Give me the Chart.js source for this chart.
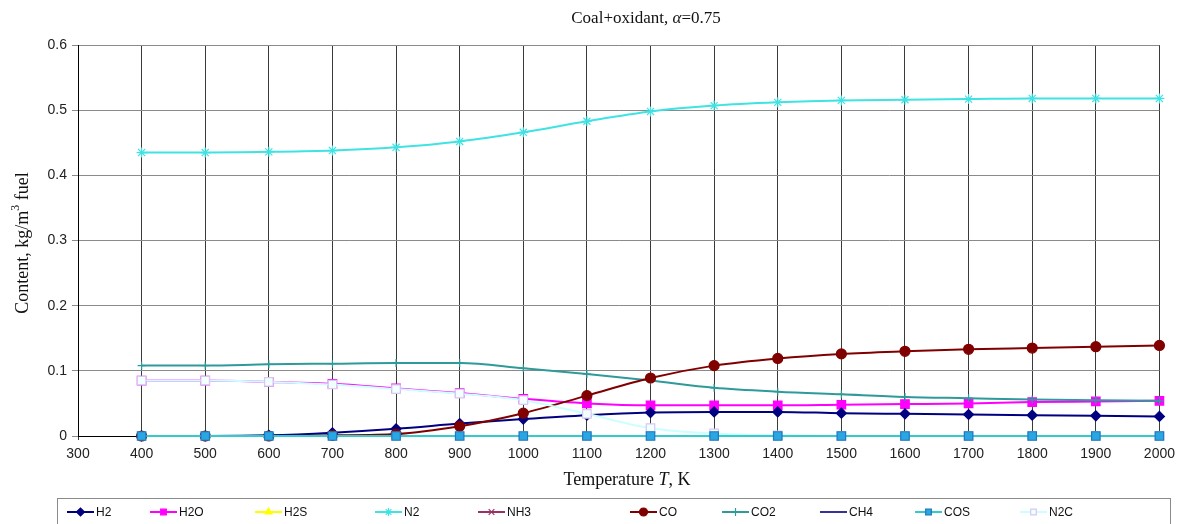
<!DOCTYPE html>
<html><head><meta charset="utf-8">
<script src="https://cdn.jsdelivr.net/npm/chart.js@4.4.1/dist/chart.umd.min.js"></script>
<style>html,body{margin:0;padding:0;background:#fff;}#wrap{width:1181px;height:524px;}</style>
</head><body><div id="wrap"><canvas id="c" width="1181" height="524"></canvas></div>
<script>
const temperatures = [400,500,600,700,800,900,1000,1100,1200,1300,1400,1500,1600,1700,1800,1900,2000];
const h2  = [0,0,0.001,0.005,0.011,0.019,0.026,0.032,0.036,0.037,0.037,0.035,0.034,0.033,0.032,0.031,0.030];
const h2o = [0.085,0.085,0.083,0.080,0.073,0.066,0.057,0.050,0.047,0.047,0.047,0.048,0.049,0.050,0.052,0.053,0.054];
const h2s = [0,0,0,0,0,0,0,0,0,0,0,0,0,0,0,0,0];
const n2  = [0.435,0.435,0.436,0.438,0.443,0.452,0.466,0.483,0.498,0.507,0.512,0.515,0.516,0.517,0.518,0.518,0.518];
const nh3 = [0,0,0,0,0,0,0,0,0,0,0,0,0,0,0,0,0];
const co  = [0,0,0,0.001,0.003,0.015,0.035,0.062,0.089,0.108,0.119,0.126,0.130,0.133,0.135,0.137,0.139];
const co2 = [0.108,0.108,0.110,0.111,0.112,0.112,0.104,0.095,0.085,0.074,0.068,0.064,0.060,0.058,0.056,0.055,0.054];
const ch4 = [0,0,0,0,0,0,0,0,0,0,0,0,0,0,0,0,0];
const cos = [0,0,0,0,0,0,0,0,0,0,0,0,0,0,0,0,0];
const n2c = [0.085,0.085,0.083,0.079,0.072,0.065,0.055,0.034,0.012,0.004,0.001,0,0,0,0,0,0];
const seriesNames = ['H2','H2O','H2S','N2','NH3','CO','CO2','CH4','COS','N2C'];
const xMin = 300, xMax = 2000, xStep = 100;
const yMin = 0, yMax = 0.6, yStep = 0.1;

const pts = arr => arr.map((v,i)=>({x:temperatures[i], y:v}));
const styles = [
  {c:'#000080', ps:'rectRot', r:5, bg:'#000080', order:3},
  {c:'#ff00ff', ps:'rect', r:6, bg:'#ff00ff', order:5},
  {c:'#ffff00', ps:'triangle', r:4, bg:'#ffff00', order:8},
  {c:'#3fe3e3', ps:'star', r:5, bg:'#3fe3e3', order:6},
  {c:'#993366', ps:'crossRot', r:4, bg:'#993366', order:9},
  {c:'#800000', ps:'circle', r:5, bg:'#800000', order:2},
  {c:'#2f9a9a', ps:'cross', r:4, bg:'#2f9a9a', order:4},
  {c:'#333399', ps:'line', r:2, bg:'#333399', order:7},
  {c:'#33cccc', ps:'rect', r:6, bg:'#2aa6e2', bc:'#1f78c0', order:0},
  {c:'#ccffff', ps:'rect', r:6, bg:'#f2ffff', bc:'#d8c8f0', order:1}
];
const values = [h2,h2o,h2s,n2,nh3,co,co2,ch4,cos,n2c];
const datasets = values.map((v,i)=>({
  label: seriesNames[i], data: pts(v), borderColor: styles[i].c, backgroundColor: styles[i].bg,
  pointStyle: styles[i].ps, pointRadius: styles[i].r, pointBorderColor: styles[i].bc || styles[i].c,
  pointBackgroundColor: styles[i].bg, pointBorderWidth: 1.2, borderWidth: 2,
  cubicInterpolationMode: 'monotone', order: styles[i].order, clip: false
}));

function richText(ctx, parts, cx, cy, size){
  let total = 0;
  parts.forEach(p=>{ ctx.font = (p.it?'italic ':'') + (p.sup?size*0.65:size) + 'px "Liberation Serif"'; p.w = ctx.measureText(p.t).width; total += p.w; });
  let x = cx - total/2;
  ctx.textBaseline = 'middle'; ctx.textAlign = 'left';
  parts.forEach(p=>{ ctx.font = (p.it?'italic ':'') + (p.sup?size*0.65:size) + 'px "Liberation Serif"'; ctx.fillText(p.t, x, p.sup? cy - size*0.38 : cy); x += p.w; });
}

const textPlugin = {
  id:'texts',
  afterDraw(chart){
    const ctx = chart.ctx; ctx.save(); ctx.fillStyle = '#111';
    richText(ctx, [{t:'Coal+oxidant, '},{t:'α',it:true},{t:'=0.75'}], 646, 19, 17);
    richText(ctx, [{t:'Temperature '},{t:'T',it:true},{t:', K'}], 627, 480, 18);
    ctx.save(); ctx.translate(23, 243); ctx.rotate(-Math.PI/2);
    richText(ctx, [{t:'Content, kg/m'},{t:'3',sup:true},{t:' fuel'}], 0, 0, 18);
    ctx.restore();
    // legend
    ctx.strokeStyle = '#8a8a8a'; ctx.lineWidth = 1;
    ctx.strokeRect(57.5, 498.5, 1113, 40);
    const starts = [67,150,255,375,478,630,722,820,915,1020];
    const ly = 512;
    ctx.font = '12px "Liberation Sans"'; ctx.textBaseline = 'middle'; ctx.textAlign='left';
    seriesNames.forEach((n,i)=>{
      const s = styles[i], x0 = starts[i];
      ctx.strokeStyle = s.c; ctx.lineWidth = 2;
      ctx.beginPath(); ctx.moveTo(x0, ly); ctx.lineTo(x0+27, ly); ctx.stroke();
      ctx.fillStyle = s.bg; ctx.strokeStyle = s.bc || s.c; ctx.lineWidth = 1.2;
      Chart.helpers.drawPoint(ctx, {pointStyle:s.ps, radius:Math.min(s.r,4), rotation:0, borderWidth:1.2}, x0+13.5, ly);
      ctx.fillStyle = '#111';
      ctx.fillText(n, x0+29, ly+0.5);
    });
    ctx.restore();
  }
};

new Chart(document.getElementById('c'), {
  type:'line',
  data:{datasets},
  options:{
    responsive:false, animation:false, devicePixelRatio:1,
    layout:{padding:{top:45, right:20, bottom:33, left:0}},
    plugins:{legend:{display:false}, tooltip:{enabled:false}, title:{display:false}},
    scales:{
      x:{type:'linear', min:xMin, max:xMax,
        ticks:{stepSize:xStep, autoSkip:false, maxRotation:0, color:'#222', font:{family:'"Liberation Sans"', size:14}, padding:6, callback:v=>String(v)},
        grid:{color:'#3a3a3a', lineWidth:1, tickLength:4},
        border:{color:'#000', width:1},
        afterFit(s){ s.height = 55; }
      },
      y:{min:yMin, max:yMax,
        ticks:{stepSize:yStep, color:'#222', font:{family:'"Liberation Sans"', size:14}, padding:5, callback:v=>String(+v.toFixed(1))},
        grid:{color:'#8a8a8a', lineWidth:1, tickLength:6},
        border:{color:'#000', width:1},
        afterFit(s){ s.width = 78; }
      }
    }
  },
  plugins:[textPlugin]
});
</script></body></html>
